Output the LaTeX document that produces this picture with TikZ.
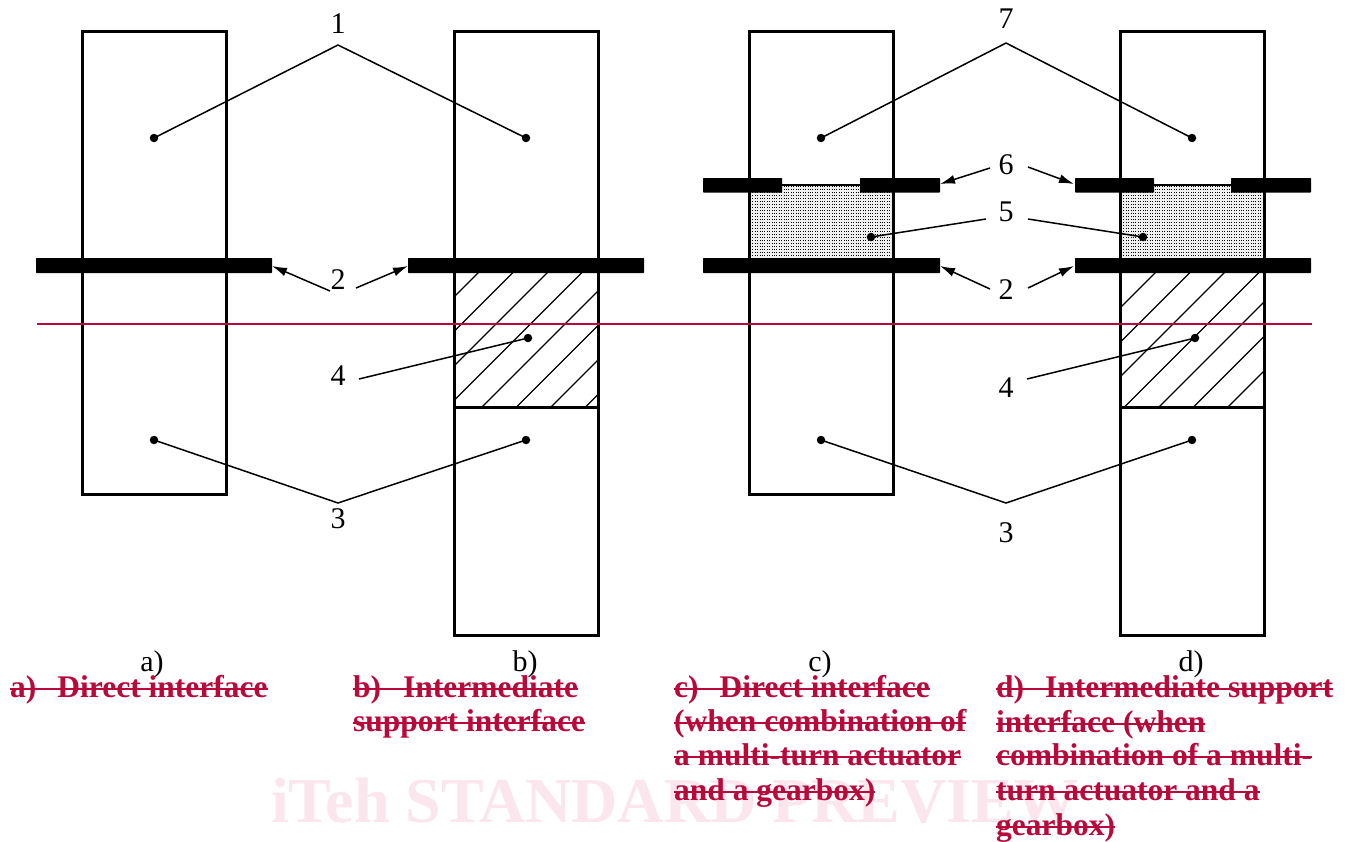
\documentclass[tikz,border=0pt]{standalone}
\usepackage{fontspec}
\setmainfont{Liberation Serif}
\usetikzlibrary{arrows.meta}
\definecolor{strikered}{HTML}{B9083A}
\definecolor{wm}{HTML}{FAE6EC}
\newcommand{\strk}[1]{\sbox0{#1}\rlap{\rule[7.2pt]{\wd0}{2pt}}\box0}
\tikzset{
  x=1pt,y=-1pt,
  boxline/.style={draw=black,line width=3pt},
  boxnode/.style={boxline,inner sep=0pt,outer sep=0pt,minimum width=144pt,anchor=north west},
  bar/.style={fill=black,draw=none,rounded corners=0.6pt},
  hatchline/.style={draw=black,line width=1.2pt},
  leader/.style={draw=black,line width=1.5pt},
  arrowleader/.style={leader,-{Latex[length=15pt,width=9pt]}},
  dotnode/.style={circle,fill=black,inner sep=0pt,minimum size=8.5pt},
  num/.style={inner sep=0pt,font=\fontsize{30}{30}\selectfont},
  sub/.style={inner sep=0pt,anchor=base,font=\fontsize{30}{30}\selectfont},
  struck/.style={inner sep=0pt,anchor=base west,text=strikered,font=\fontsize{31.5}{31.5}\selectfont\bfseries},
}
\begin{document}
\begin{tikzpicture}
\useasboundingbox (0,0) rectangle (1352,841);
% watermark
\node[inner sep=0pt,anchor=base west,text=wm,font=\fontsize{64}{64}\selectfont\bfseries] (wmark) at (271,822) {iTeh STANDARD PREVIEW};
% stipple
\foreach \xa/\xb in {750/892,1121/1263}{
  \fill[gray!12] (\xa,185) rectangle (\xb,258);
  \foreach \yy in {186,189,...,257}{
    \draw[black,line width=0.6pt,dash pattern=on 0.9pt off 1.5pt] (\xa,\yy) -- (\xb,\yy);
  }
  \draw[black,line width=1.5pt] (\xa,185) -- (\xb,185);
}
% hatching
\foreach \xa/\xb/\base in {454/598/751,1121/1264/1428}{
  \begin{scope}
    \clip (\xa,272) rectangle (\xb,407);
    \foreach \k in {0,...,7}{
      \pgfmathsetmacro{\cc}{\base+34.5*\k}
      \draw[hatchline] (\cc-230,230) -- (\cc-430,430);
    }
  \end{scope}
}
% boxes
\node[boxnode,minimum height=463pt] (boxA) at (82,31) {};
\node[boxnode,minimum height=604pt] (boxB) at (454,31) {};
\node[boxnode,minimum height=463pt] (boxC) at (749,31) {};
\node[boxnode,minimum height=604pt] (boxD) at (1120,31) {};
\draw[boxline] (454,407) -- (598,407);
\draw[boxline] (1120,407) -- (1264,407);
% bars
\fill[bar] (36,258) rectangle (272,273);
\fill[bar] (408,258) rectangle (644,273);
\fill[bar] (703,258) rectangle (940,273);
\fill[bar] (1075,258) rectangle (1311,273);
\fill[bar] (703,178) rectangle (782,192.5);
\fill[bar] (860,178) rectangle (940,192.5);
\fill[bar] (1075,178) rectangle (1154,192.5);
\fill[bar] (1231,178) rectangle (1311,192.5);
% dots
\node[dotnode] (d1a) at (154,138) {};
\node[dotnode] (d1b) at (526,138) {};
\node[dotnode] (d3a) at (154,440) {};
\node[dotnode] (d3b) at (526,440) {};
\node[dotnode] (d4a) at (528,338) {};
\node[dotnode] (d7a) at (821,138) {};
\node[dotnode] (d7b) at (1192,138) {};
\node[dotnode] (d5a) at (871,237) {};
\node[dotnode] (d5b) at (1143,237) {};
\node[dotnode] (d4b) at (1195,338) {};
\node[dotnode] (d3c) at (821,440) {};
\node[dotnode] (d3d) at (1192,440) {};
% labels
\node[num] (n1) at (338,24) {1};
\node[num] (n2a) at (338,280) {2};
\node[num] (n4a) at (338,376) {4};
\node[num] (n3a) at (338,519) {3};
\node[num] (n7) at (1006,19) {7};
\node[num] (n6) at (1006,165) {6};
\node[num] (n5) at (1006,212) {5};
\node[num] (n2b) at (1006,290) {2};
\node[num] (n4b) at (1006,388) {4};
\node[num] (n3b) at (1006,533) {3};
% free ends
\coordinate (c1) at (338,45);
\coordinate (c3) at (338,503);
\coordinate (c7) at (1006,43);
\coordinate (c3b) at (1006,503);
\coordinate (tipA) at (272,266);
\coordinate (tipB) at (408,266);
\coordinate (tipC) at (940,266);
\coordinate (tipD) at (1074,266);
\coordinate (tipE) at (940,184);
\coordinate (tipF) at (1074,184);
% leaders
\draw[leader] (d1a.center) -- (c1) -- (d1b.center);
\draw[leader] (d3a.center) -- (c3) -- (d3b.center);
\draw[leader] (d7a.center) -- (c7) -- (d7b.center);
\draw[leader] (d3c.center) -- (c3b) -- (d3d.center);
\draw[leader] (359,379) -- (d4a.center);
\draw[leader] (1027,379) -- (d4b.center);
\draw[leader] (986,219) -- (d5a.center);
\draw[leader] (1028,219) -- (d5b.center);
\draw[arrowleader] (330,291) -- (tipA);
\draw[arrowleader] (356,288) -- (tipB);
\draw[arrowleader] (990,289) -- (tipC);
\draw[arrowleader] (1028,288) -- (tipD);
\draw[arrowleader] (990,168) -- (tipE);
\draw[arrowleader] (1028,167) -- (tipF);
% red line
\coordinate (redL) at (37,324);
\coordinate (redR) at (1312,324);
\draw[strikered,line width=1.5pt] (redL) -- (redR);
% sub captions
\node[sub] (sa) at (152,671) {a)};
\node[sub] (sb) at (525,671) {b)};
\node[sub] (sc) at (820,671) {c)};
\node[sub] (sd) at (1191,671) {d)};
% struck text
\node[struck] (ta) at (10,697.5) {\strk{a)\hspace{21pt}Direct interface}};
\node[struck] (tb1) at (353,697.5) {\strk{b)\hspace{22pt}Intermediate}};
\node[struck] (tb2) at (353,731.5) {\strk{support interface}};
\node[struck] (tc1) at (674,697.5) {\strk{c)\hspace{21pt}Direct interface}};
\node[struck] (tc2) at (674,731.5) {\strk{(when combination of}};
\node[struck] (tc3) at (674,765.5) {\strk{a multi-turn actuator}};
\node[struck] (tc4) at (674,800) {\strk{and a gearbox)}};
\node[struck] (td1) at (996,697.5) {\strk{d)\hspace{21pt}Intermediate support}};
\node[struck] (td2) at (996,732.5) {\strk{interface (when}};
\node[struck] (td3) at (996,765.5) {\strk{combination of a multi-}};
\node[struck] (td4) at (996,800) {\strk{turn actuator and a}};
\node[struck] (td5) at (996,835) {\strk{gearbox)}};
\end{tikzpicture}
\end{document}
